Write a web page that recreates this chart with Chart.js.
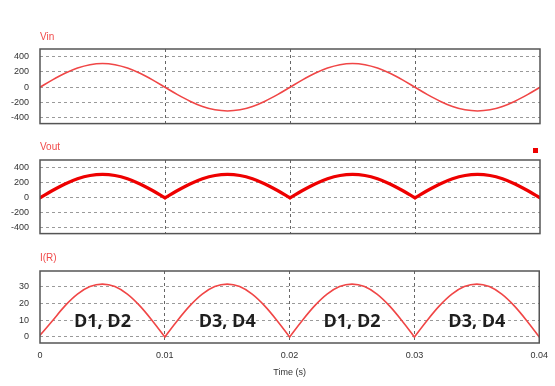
<!DOCTYPE html>
<html lang="en">
<head>
    <meta charset="UTF-8">
    <title>Full bridge rectifier waveforms</title>
    <script src="https://cdn.jsdelivr.net/npm/chart.js"></script>
    <style>
        body { margin: 0; background: #fff; width: 555px; height: 386px; position: relative; overflow: hidden; }
        canvas { position: absolute; left: 0; }
        .lbl { position: absolute; left: 40px; font: 10px "Liberation Sans", Arial, sans-serif; color: #f04a4a; }
        .mark { position: absolute; left: 533px; top: 148px; width: 5px; height: 5px; background: #e00; }
    </style>
</head>
<body>
<canvas id="vinChart" width="555" height="140" style="top:0"></canvas>
<canvas id="voutChart" width="555" height="110" style="top:140px"></canvas>
<canvas id="irChart" width="555" height="128" style="top:250px"></canvas>
<div class="lbl" style="top:31px">Vin</div>
<div class="lbl" style="top:141px">Vout</div>
<div class="lbl" style="top:252px">I(R)</div>
<div class="mark"></div>

<script>
    // time axis (s)
    const time = [0, 0.001, 0.002, 0.003, 0.004, 0.005, 0.006, 0.007, 0.008, 0.009,
        0.010, 0.011, 0.012, 0.013, 0.014, 0.015, 0.016, 0.017, 0.018, 0.019,
        0.020, 0.021, 0.022, 0.023, 0.024, 0.025, 0.026, 0.027, 0.028, 0.029,
        0.030, 0.031, 0.032, 0.033, 0.034, 0.035, 0.036, 0.037, 0.038, 0.039, 0.040];

    // values
    const vin = [0, 96, 182, 251, 295, 310, 295, 251, 182, 96,
        0, -96, -182, -251, -295, -310, -295, -251, -182, -96,
        0, 96, 182, 251, 295, 310, 295, 251, 182, 96,
        0, -96, -182, -251, -295, -310, -295, -251, -182, -96, 0];
    const vout = [0, 96, 182, 251, 295, 310, 295, 251, 182, 96,
        0, 96, 182, 251, 295, 310, 295, 251, 182, 96,
        0, 96, 182, 251, 295, 310, 295, 251, 182, 96,
        0, 96, 182, 251, 295, 310, 295, 251, 182, 96, 0];
    const iR = [1, 9.7, 18.5, 25.5, 30, 31.5, 30, 25.5, 18.5, 9.7,
        0, 9.7, 18.5, 25.5, 30, 31.5, 30, 25.5, 18.5, 9.7,
        0, 9.7, 18.5, 25.5, 30, 31.5, 30, 25.5, 18.5, 9.7,
        0, 9.7, 18.5, 25.5, 30, 31.5, 30, 25.5, 18.5, 9.7, 0];

    const voltTicks = [-400, -200, 0, 200, 400];
    const currentTicks = [0, 5, 10, 15, 20, 25, 30, 35];
    const timeTicks = [0, 0.01, 0.02, 0.03, 0.04];

    const diodeLabels = ['D1, D2', 'D3, D4', 'D1, D2', 'D3, D4'];
    const diodeX = [0.005, 0.015, 0.025, 0.035];
    const diodeY = 9;

    const tickFont = { family: '"Liberation Sans", Arial, sans-serif', size: 9 };

    const boxPlugin = {
        id: 'box',
        afterDraw(chart) {
            const a = chart.chartArea, ctx = chart.ctx;
            ctx.save();
            ctx.strokeStyle = '#555';
            ctx.lineWidth = 1.5;
            ctx.setLineDash([]);
            ctx.strokeRect(a.left, a.top, a.right - a.left, a.bottom - a.top);
            ctx.restore();
        }
    };

    const diodePlugin = {
        id: 'diodes',
        afterDatasetsDraw(chart) {
            const ctx = chart.ctx, x = chart.scales.x, y = chart.scales.y;
            ctx.save();
            ctx.font = 'bold 18px "Open Sans", "DejaVu Sans", sans-serif';
            ctx.fillStyle = '#1e1e1e';
            ctx.textAlign = 'center';
            ctx.textBaseline = 'middle';
            diodeLabels.forEach((t, i) => {
                ctx.fillText(t, x.getPixelForValue(diodeX[i]), y.getPixelForValue(diodeY));
            });
            ctx.restore();
        }
    };

    // split a series into pieces (rectified waves have sharp cusps at the joins)
    function pieces(values, breaks) {
        const out = [];
        for (let k = 0; k < breaks.length - 1; k++) {
            const pts = [];
            for (let i = breaks[k]; i <= breaks[k + 1]; i++) pts.push({ x: time[i], y: values[i] });
            out.push(pts);
        }
        return out;
    }

    function makeChart(id, values, opts) {
        const breaks = opts.cusps ? [0, 10, 20, 30, 40] : [0, 40];
        const datasets = pieces(values, breaks).map(pts => ({
            data: pts,
            borderColor: opts.color,
            borderWidth: opts.width,
            borderCapStyle: 'round',
            pointRadius: 0,
            cubicInterpolationMode: 'monotone',
            fill: false
        }));
        return new Chart(document.getElementById(id), {
            type: 'line',
            data: { datasets },
            options: {
                responsive: false,
                animation: false,
                devicePixelRatio: 1,
                layout: { padding: { top: opts.top, right: 15, left: 0, bottom: 0 } },
                plugins: { legend: { display: false }, tooltip: { enabled: false } },
                scales: {
                    x: {
                        type: 'linear',
                        min: 0,
                        max: 0.04,
                        afterBuildTicks: s => { s.ticks = timeTicks.map(v => ({ value: v })); },
                        afterFit: s => { s.height = opts.xHeight; },
                        ticks: {
                            display: opts.showX,
                            padding: 7,
                            color: '#333',
                            font: tickFont,
                            maxRotation: 0,
                            callback: v => String(+v.toFixed(2))
                        },
                        grid: {
                            drawTicks: false,
                            color: c => (c.tick && (c.tick.value <= 0.0001 || c.tick.value >= 0.0399)) ? 'rgba(0,0,0,0)' : '#666',
                            lineWidth: 1
                        },
                        border: { display: false, dash: [3, 3] },
                        title: {
                            display: opts.showX,
                            text: 'Time (s)',
                            color: '#333',
                            font: tickFont,
                            padding: { top: 2, bottom: 0 }
                        }
                    },
                    y: {
                        min: opts.min,
                        max: opts.max,
                        afterBuildTicks: s => { s.ticks = opts.ticks.map(v => ({ value: v })); },
                        afterFit: s => { s.width = 40; },
                        ticks: {
                            padding: 11,
                            color: '#333',
                            font: tickFont,
                            callback: v => (opts.labelEvery && v % opts.labelEvery !== 0) ? '' : String(v)
                        },
                        grid: { drawTicks: false, color: '#9a9a9a', lineWidth: 1 },
                        border: { display: false, dash: [3, 3] }
                    }
                }
            },
            plugins: opts.plugins
        });
    }

    makeChart('vinChart', vin, {
        color: '#f04646', width: 1.6, top: 49, xHeight: 13, showX: false, cusps: false,
        min: -475, max: 500, ticks: voltTicks, plugins: [boxPlugin]
    });
    makeChart('voutChart', vout, {
        color: '#ee0000', width: 3.2, top: 20, xHeight: 12, showX: false, cusps: true,
        min: -475, max: 500, ticks: voltTicks, plugins: [boxPlugin]
    });
    makeChart('irChart', iR, {
        color: '#f04646', width: 1.6, top: 21, xHeight: 35, showX: true, cusps: true,
        min: -3.6, max: 39.3, ticks: currentTicks, labelEvery: 10, plugins: [boxPlugin, diodePlugin]
    });
</script>
</body>
</html>
